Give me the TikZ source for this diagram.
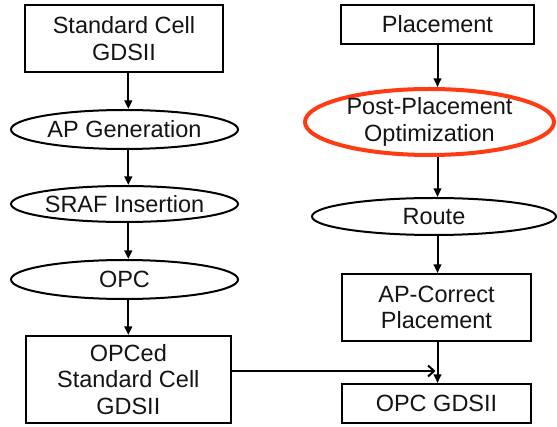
\documentclass[tikz,border=0pt]{standalone}
\usepackage{fontspec}
\setmainfont{Liberation Sans}
\usetikzlibrary{shapes.geometric,arrows.meta}
\definecolor{hlred}{HTML}{FF3B14}
\begin{document}
\begin{tikzpicture}[x=1pt,y=-1pt,
  every node/.style={font=\fontsize{23.5}{26.5}\selectfont, align=center, text=black!92},
  boxnode/.style={draw, line width=2pt, rectangle, inner sep=0pt},
  ellnode/.style={draw, line width=2pt, ellipse, inner sep=-12pt},
  arr/.style={line width=2pt, -{Triangle[width=7.5pt,length=8.5pt]}},
  harr/.style={line width=2pt, -{Straight Barb[width=11pt,length=6pt,line width=2pt]}}]
\useasboundingbox[fill=white] (0,0) rectangle (557,427);
% left column
\node[boxnode, minimum width=198pt, minimum height=67pt] (sc) at (124,38.5) {Standard Cell\\GDSII};
\node[ellnode, minimum width=227pt, minimum height=39pt] (ap) at (124.5,129.5) {AP Generation};
\node[ellnode, minimum width=227pt, minimum height=36pt] (sraf) at (124.5,204) {SRAF Insertion};
\node[ellnode, minimum width=227pt, minimum height=39pt] (opc) at (124.5,279.5) {OPC};
\node[boxnode, minimum width=205pt, minimum height=87pt] (opced) at (128.3,379.5) {OPCed\\Standard Cell\\GDSII};
% right column
\node[boxnode, minimum width=193pt, minimum height=39pt] (place) at (437.5,24.5) {Placement};
\node[ellnode, draw=hlred, line width=4pt, minimum width=249pt, minimum height=66pt, inner sep=-20pt] (ppo) at (429.5,122) {Post-Placement\\Optimization};
\node[ellnode, minimum width=244pt, minimum height=37pt] (route) at (434,216.5) {Route};
\node[boxnode, minimum width=189pt, minimum height=67pt] (apc) at (436.5,307.5) {AP-Correct\\Placement};
\node[boxnode, minimum width=189pt, minimum height=39pt] (opcg) at (436.5,403.5) {OPC GDSII};
% left arrows
\draw[arr] (sc.south -| opced.north) -- (ap.north -| opced.north);
\draw[arr] (ap.south -| opced.north) -- (sraf.north -| opced.north);
\draw[arr] (sraf.south -| opced.north) -- (opc.north -| opced.north);
\draw[arr] (opc.south -| opced.north) -- (opced.north);
% right arrows
\draw[arr] (place.south) -- (ppo.north -| place.south);
\draw[arr] (ppo.south -| place.south) -- (route.north -| place.south);
\draw[arr] (route.south -| place.south) -- (apc.north -| place.south);
\draw[arr] (apc.south -| place.south) -- (opcg.north -| place.south);
% horizontal
\draw[harr, shorten >=2pt] ([yshift=8.5pt]opced.east) -- ([yshift=8.5pt]opced.east -| place.south);
\end{tikzpicture}
\end{document}
